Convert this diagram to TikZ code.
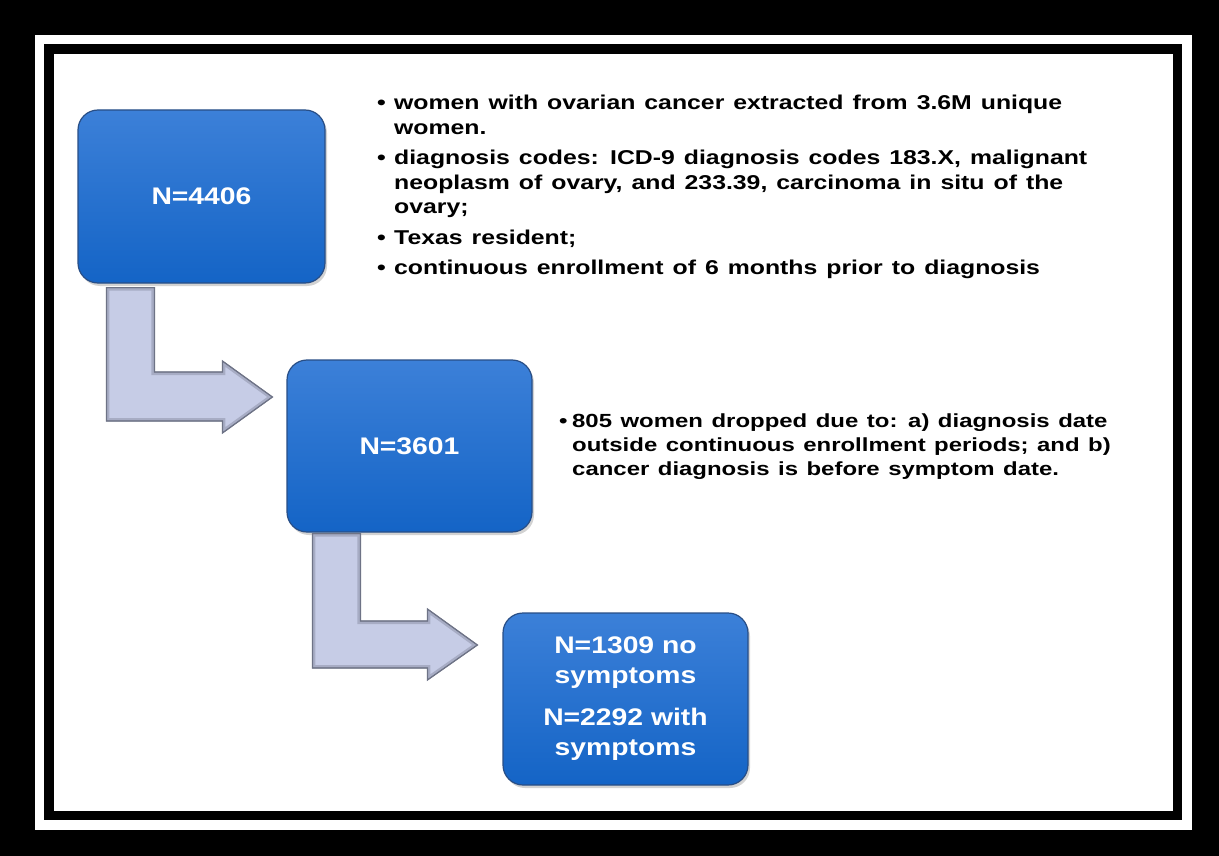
\documentclass[tikz,border=0pt]{standalone}
\usepackage{fontspec}
\newfontfamily\bodyfont{Liberation Sans}[FakeStretch=1.24]
\newfontfamily\bodyfontb{Liberation Sans}[FakeStretch=1.26]
\newfontfamily\boxfont{Liberation Sans}[FakeStretch=1.18]
\usetikzlibrary{shadows,calc}
\definecolor{boxtop}{HTML}{3C80D8}
\definecolor{boxbot}{HTML}{1464C6}
\definecolor{boxedge}{HTML}{284E86}
\definecolor{arrfill}{HTML}{C6CCE6}
\definecolor{arredge}{HTML}{6E7386}
\tikzset{
  bluebox/.style={rounded corners=20pt, top color=boxtop, bottom color=boxbot,
    draw=boxedge, line width=1.2pt, minimum width=245pt, minimum height=172pt,
    text=white, inner sep=0pt, align=center,
    font=\boxfont\bfseries\fontsize{24}{30}\selectfont,
    drop shadow={opacity=0.35, shadow xshift=2pt, shadow yshift=-3pt}},
  blockarrow/.style={fill=arrfill, draw=arredge, line width=1.2pt, line join=miter},
  arrowbevel/.style={draw=arredge, line width=6pt, opacity=0.35, line join=miter},
  bullettext/.style={anchor=base west, inner sep=0pt, text=black}
}
\newcommand{\blt}[1]{\makebox[#1][l]{\textbullet}}
\begin{document}
\begin{tikzpicture}[x=1pt,y=-1pt]
\useasboundingbox (0,0) rectangle (1219,856);
% frame
\fill[black] (0,0) rectangle (1219,856);
\fill[white] (35,35) rectangle (1192,830);
\fill[black] (44,44) rectangle (1182,820);
\fill[white] (54,54) rectangle (1173,811);

% boxes
\node[bluebox, minimum width=247pt, minimum height=173pt] (b1) at (201.5,196.5) {N=4406};
\node[bluebox] (b2) at (409.5,446) {N=3601};
\node[bluebox] (b3) at (625.5,699) {N=1309 no\\symptoms\\[12pt]N=2292 with\\symptoms};

% block arrows
\coordinate (a1s) at ($(b1.south west)+(29,4)$);
\coordinate (a1t) at ($(b2.west)+(-14,-49)$);
\path[save path=\arrA] (a1s) -- ++(48,0) |- ($(a1t)+(-50,-25)$) -- ++(0,-11)
  -- (a1t) -- ($(a1t)+(-50,36)$) -- ++(0,-12) -| cycle;
\path[blockarrow, use path=\arrA];
\begin{scope}
  \clip[use path=\arrA];
  \path[arrowbevel, use path=\arrA];
\end{scope}
\path[draw=arredge, line width=0.8pt, line join=miter, use path=\arrA];

\coordinate (a2s) at ($(b2.south west)+(26,1)$);
\coordinate (a2t) at ($(b3.west)+(-25,-54)$);
\path[save path=\arrB] (a2s) -- ++(48,0) |- ($(a2t)+(-50,-24)$) -- ++(0,-12)
  -- (a2t) -- ($(a2t)+(-50,35)$) -- ++(0,-12) -| cycle;
\path[blockarrow, use path=\arrB];
\begin{scope}
  \clip[use path=\arrB];
  \path[arrowbevel, use path=\arrB];
\end{scope}
\path[draw=arredge, line width=0.8pt, line join=miter, use path=\arrB];

% texts
\node[bullettext] (t1) at (377,110) {\bodyfont\bfseries\fontsize{20}{24.5}\selectfont
  \spaceskip=9pt plus 1pt
  \begin{tabular}[t]{@{}l@{}l@{}}
  \blt{17pt} & women with ovarian cancer extracted from 3.6M unique\\
   & women.\\[6pt]
  \blt{17pt} & diagnosis codes: ICD-9 diagnosis codes 183.X, malignant\\
   & neoplasm of ovary, and 233.39, carcinoma in situ of the\\
   & ovary;\\[6pt]
  \blt{17pt} & Texas resident;\\[6pt]
  \blt{17pt} & continuous enrollment of 6 months prior to diagnosis
  \end{tabular}};
\node[bullettext] (t2) at (559,427) {\bodyfontb\bfseries\fontsize{19}{24}\selectfont
  \spaceskip=8.5pt plus 1pt
  \begin{tabular}[t]{@{}l@{}l@{}}
  \blt{13pt} & 805 women dropped due to: a) diagnosis date\\
   & outside continuous enrollment periods; and b)\\
   & cancer diagnosis is before symptom date.
  \end{tabular}};
\end{tikzpicture}
\end{document}
